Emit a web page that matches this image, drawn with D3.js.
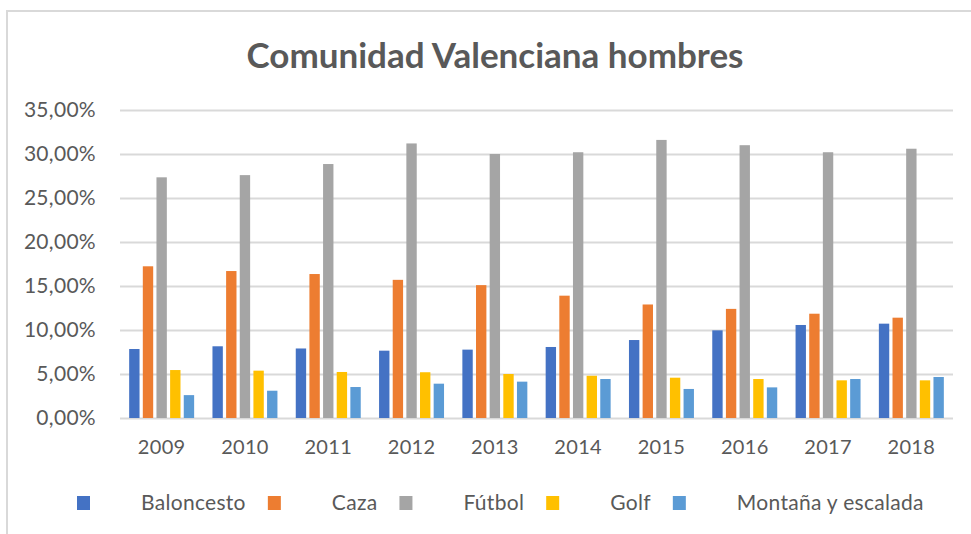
<!DOCTYPE html>
<html>
<head>
<meta charset="utf-8">
<script src="https://cdn.jsdelivr.net/npm/d3@7"></script>
<style>
  html, body { margin: 0; padding: 0; background: #fff; }
  svg { display: block; font-family: Lato, "Open Sans", sans-serif; }
</style>
</head>
<body>
<div id="chart"></div>
<script>
  // data
  var years = ['2009', '2010', '2011', '2012', '2013', '2014', '2015', '2016', '2017', '2018'];
  var sports = ['Baloncesto', 'Caza', 'Fútbol', 'Golf', 'Montaña y escalada'];
  var colors = ['#4472C4', '#ED7D31', '#A5A5A5', '#FFC000', '#5B9BD5'];
  var baloncesto = [7.84, 8.15, 7.9, 7.65, 7.77, 8.07, 8.86, 9.96, 10.57, 10.72];
  var caza = [17.24, 16.7, 16.36, 15.7, 15.1, 13.9, 12.9, 12.4, 11.85, 11.4];
  var futbol = [27.35, 27.6, 28.86, 31.2, 30.0, 30.2, 31.6, 31.0, 30.2, 30.6];
  var golf = [5.45, 5.38, 5.23, 5.2, 5.0, 4.8, 4.58, 4.43, 4.28, 4.28];
  var montana = [2.6, 3.1, 3.52, 3.9, 4.13, 4.43, 3.3, 3.48, 4.43, 4.66];
  var yTicks = [0, 5, 10, 15, 20, 25, 30, 35];

  var series = [baloncesto, caza, futbol, golf, montana];

  var w = 971, h = 534;
  var margin = {top: 110, right: 18, bottom: 116, left: 120};

  var svg = d3.select('#chart')
    .append('svg')
    .attr('width', w)
    .attr('height', h);

  // chart frame (left and top edges visible only)
  svg.append('path')
    .attr('d', 'M7,534 V11 H971')
    .attr('fill', 'none')
    .attr('stroke', '#d9d9d9')
    .attr('stroke-width', 2);

  svg.append('text')
    .attr('x', 495)
    .attr('y', 68)
    .attr('text-anchor', 'middle')
    .attr('font-size', 35)
    .attr('font-weight', 'bold')
    .attr('fill', '#595959')
    .text('Comunidad Valenciana hombres');

  var x0 = d3.scaleBand()
    .domain(years)
    .range([margin.left, w - margin.right])
    .paddingInner(0.22)
    .paddingOuter(0.11);

  var x1 = d3.scaleBand()
    .domain(d3.range(sports.length))
    .range([0, x0.bandwidth()])
    .paddingInner(0.24);

  var y = d3.scaleLinear()
    .domain([0, 35])
    .range([h - margin.bottom, margin.top]);

  var fmt = function (d) { return d.toFixed(2).replace('.', ',') + '%'; };

  // gridlines + y labels
  var yAxis = d3.axisLeft(y)
    .tickValues(yTicks)
    .tickSize(-(w - margin.left - margin.right))
    .tickPadding(24)
    .tickFormat(fmt);

  var gy = svg.append('g')
    .attr('transform', 'translate(' + margin.left + ',0)')
    .call(yAxis);
  gy.select('.domain').remove();
  gy.selectAll('.tick line')
    .attr('stroke', '#d9d9d9')
    .attr('stroke-width', 2);
  gy.selectAll('.tick text')
    .attr('fill', '#595959')
    .attr('font-size', 21)
    .attr('letter-spacing', 0.3)
    .attr('font-family', 'Lato, sans-serif');

  // bars
  var groups = svg.append('g')
    .selectAll('g')
    .data(years)
    .join('g')
    .attr('transform', function (d) { return 'translate(' + x0(d) + ',0)'; });

  groups.selectAll('rect')
    .data(function (d, i) {
      return series.map(function (s, k) { return {k: k, v: s[i]}; });
    })
    .join('rect')
    .attr('x', function (d) { return x1(d.k); })
    .attr('width', x1.bandwidth())
    .attr('y', function (d) { return y(d.v); })
    .attr('height', function (d) { return y(0) - y(d.v); })
    .attr('fill', function (d) { return colors[d.k]; });

  // x labels
  var xAxis = d3.axisBottom(x0).tickSize(0).tickPadding(22);
  var gx = svg.append('g')
    .attr('transform', 'translate(0,' + (h - margin.bottom) + ')')
    .call(xAxis);
  gx.select('.domain').remove();
  gx.selectAll('.tick text')
    .attr('fill', '#595959')
    .attr('font-size', 20)
    .attr('letter-spacing', 0.3)
    .attr('font-family', 'Lato, sans-serif');

  // legend
  var legend = svg.append('g').attr('transform', 'translate(0,503)');
  var lx = 77;
  sports.forEach(function (name, k) {
    legend.append('rect')
      .attr('x', lx)
      .attr('y', -7)
      .attr('width', 13)
      .attr('height', 14)
      .attr('fill', colors[k]);
    var t = legend.append('text')
      .attr('x', lx + 64)
      .attr('y', 7)
      .attr('font-size', 21)
      .attr('letter-spacing', 0.3)
      .attr('fill', '#595959')
      .text(name);
    lx = lx + 64 + t.node().getComputedTextLength() + 22;
  });
</script>
</body>
</html>
